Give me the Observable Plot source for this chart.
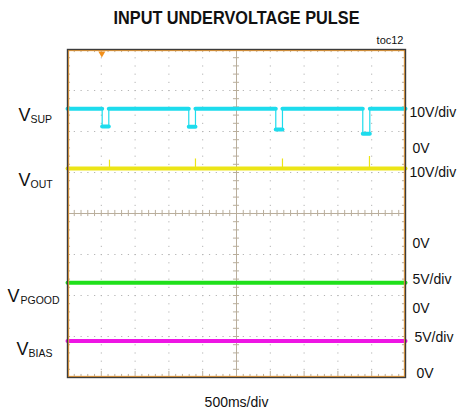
<!DOCTYPE html>
<html><head><meta charset="utf-8">
<script src="https://cdn.jsdelivr.net/npm/d3@7"></script>
<script src="https://cdn.jsdelivr.net/npm/@observablehq/plot@0.6"></script>
<style>html,body{margin:0;padding:0;background:#fff;} #chart svg{display:block;}</style>
</head><body><div id="chart"></div>
<script>
// ---------- data ----------
const title = "INPUT UNDERVOLTAGE PULSE";
const figId = "toc12";
const timeLabel = "500ms/div";
const msPerDiv = 500;
const xDivs = 10, yDivs = 8;
const channels = ["SUP", "OUT", "PGOOD", "BIAS"];
const scaleLabels = ["10V/div", "10V/div", "5V/div", "5V/div"];
const zeroLabel = "0V";
const voltsPerDiv = [10, 10, 5, 5];
const zeroDiv = [5.585, 3.27, 1.68, 0.10];      // ground reference of each channel (divisions)
const steadyVolts = [9.7, 18.3, 3.17, 3.96];
// VSUP undervoltage pulses
const dipStartMs = [513, 1794, 3081, 4368];
const dipEndMs = [611, 1893, 3180, 4472];
const dipVolts = [5.35, 5.3, 4.65, 3.6];
// small glitches on VOUT at the end of each pulse
const voutSpikeMs = [621, 1893, 3180, 4467];
const voutSpikeVolts = [20.3, 20.6, 20.6, 21.2];
const triggerMs = 508;

// ---------- derived ----------
const colors = ["#1ddced", "#ece516", "#1fe01a", "#ee15e4"];
const X = [0, xDivs * msPerDiv];
const idx = d3.range(channels.length);
const toDiv = (i, v) => zeroDiv[i] + v / voltsPerDiv[i];
const levelDiv = idx.map(i => toDiv(i, steadyVolts[i]));

const supSegs = [];
let prev = X[0];
dipStartMs.forEach((s, k) => {
  supSegs.push({seg: "b" + k, t: prev, y: levelDiv[0]}, {seg: "b" + k, t: s, y: levelDiv[0]});
  const d = toDiv(0, dipVolts[k]);
  supSegs.push({seg: "d" + k, t: s, y: d}, {seg: "d" + k, t: dipEndMs[k], y: d});
  prev = dipEndMs[k];
});
supSegs.push({seg: "end", t: prev, y: levelDiv[0]}, {seg: "end", t: X[1], y: levelDiv[0]});
const supEdges = dipStartMs.flatMap((s, k) => [
  {t: s, y1: levelDiv[0], y2: toDiv(0, dipVolts[k])},
  {t: dipEndMs[k], y1: levelDiv[0], y2: toDiv(0, dipVolts[k])}
]);
const flat = idx.slice(1).flatMap(i => [{ch: i, t: X[0], y: levelDiv[i]}, {ch: i, t: X[1], y: levelDiv[i]}]);
const spikes = voutSpikeMs.map((t, k) => ({t, y1: levelDiv[1], y2: toDiv(1, voutSpikeVolts[k])}));

const majorX = d3.range(1, xDivs).filter(k => k !== xDivs / 2).map(k => k * msPerDiv);
const majorY = d3.range(1, yDivs).filter(k => k !== yDivs / 2);
const minorX = d3.range(0, xDivs * 5 + 1).map(i => i * msPerDiv / 5);
const minorY = d3.range(0, yDivs * 5 + 1).map(i => i / 5);
const cx = X[1] / 2, cy = yDivs / 2;
const tx = 45, ty = 0.075;   // half tick lengths in data units

const gridC = "#b4b4b4", crossC = "#b9ae9c";
const font = "Liberation Sans, Arial, sans-serif";

// label layout offsets (px)
const leftDx = [-49, -49, -60, -51];
const subDx = [-37, -37, -47, -39];
const leftDy = [6, 11.5, 13.5, 8];
const rightDx = [4, 4, 7, 9];
const rightDy = [3.4, 3.7, -3, -3];
const zeroDx = [7, 7, 7, 11];

const labelMarks = idx.flatMap(i => [
  Plot.text([i], {x: X[0], y: levelDiv[i], text: () => "V", dx: leftDx[i], dy: leftDy[i], textAnchor: "start", fontSize: 18, fill: "#111"}),
  Plot.text([i], {x: X[0], y: levelDiv[i], text: () => channels[i], dx: subDx[i], dy: leftDy[i] + 4.5, textAnchor: "start", fontSize: 10.5, fill: "#111"}),
  Plot.text([i], {x: X[1], y: levelDiv[i], text: () => scaleLabels[i], dx: rightDx[i], dy: rightDy[i], textAnchor: "start", fontSize: 14, fill: "#111"}),
  Plot.text([i], {x: X[1], y: zeroDiv[i], text: () => zeroLabel, dx: zeroDx[i], textAnchor: "start", fontSize: 14, fill: "#111"})
]);

const chart = Plot.plot({
  width: 458, height: 413,
  marginLeft: 67, marginRight: 53, marginTop: 49, marginBottom: 36,
  x: {domain: X, axis: null},
  y: {domain: [0, yDivs], axis: null},
  style: {fontFamily: font, background: "#fff", overflow: "visible"},
  marks: [
    // dotted graticule
    Plot.ruleX(majorX, {stroke: gridC, strokeWidth: 1, strokeDasharray: "1.2,7"}),
    Plot.ruleY(majorY, {stroke: gridC, strokeWidth: 1, strokeDasharray: "1.2,5.56"}),
    // centre crosshair
    Plot.ruleX([cx], {stroke: crossC, strokeWidth: 1}),
    Plot.ruleY([cy], {stroke: crossC, strokeWidth: 1}),
    Plot.ruleX(minorX, {x: d => d, y1: cy - ty, y2: cy + ty, stroke: crossC}),
    Plot.ruleY(minorY, {y: d => d, x1: cx - tx, x2: cx + tx, stroke: crossC}),
    // edge ticks
    Plot.ruleX(minorX, {x: d => d, y1: yDivs - ty, y2: yDivs, stroke: crossC}),
    Plot.ruleX(minorX, {x: d => d, y1: 0, y2: d => (d % msPerDiv === 0 ? 0.15 : ty), stroke: crossC}),
    Plot.ruleY(minorY, {y: d => d, x1: 0, x2: tx, stroke: crossC}),
    Plot.ruleY(minorY, {y: d => d, x1: X[1] - tx, x2: X[1], stroke: crossC}),
    // traces
    Plot.ruleX(spikes, {x: "t", y1: "y1", y2: "y2", stroke: colors[1], strokeWidth: 1.2}),
    Plot.line(flat, {x: "t", y: "y", z: "ch", stroke: d => colors[d.ch], strokeWidth: 4}),
    Plot.ruleX(supEdges, {x: "t", y1: "y1", y2: "y2", stroke: colors[0], strokeWidth: 1.2}),
    Plot.line(supSegs, {x: "t", y: "y", z: "seg", stroke: colors[0], strokeWidth: 4}),
    // frame
    Plot.frame({stroke: "#f2a23c", strokeWidth: 1.3, inset: 1}),
    Plot.frame({stroke: "#3c3c3c", strokeWidth: 1.4}),
    Plot.dot([triggerMs], {x: d => d, y: yDivs, dy: 4, symbol: "triangle", rotate: 180, r: 2.6, fill: "#f2901c", stroke: "none"}),
    // channel labels
    ...labelMarks,
    // titles
    Plot.text([title], {frameAnchor: "top", lineAnchor: "middle", dy: -31, fontSize: 18, fontWeight: "bold", fill: "#111"}),
    Plot.text([figId], {frameAnchor: "top-right", lineAnchor: "middle", textAnchor: "end", dx: -2, dy: -9, fontSize: 11, fill: "#111"}),
    Plot.text([timeLabel], {frameAnchor: "bottom", lineAnchor: "middle", dy: 25, fontSize: 14, fill: "#111"})
  ]
});
d3.select(chart).selectAll("text").filter(function () { return this.textContent === title; })
  .attr("textLength", 246).attr("lengthAdjust", "spacingAndGlyphs");
document.getElementById("chart").appendChild(chart);
</script>
</body></html>
